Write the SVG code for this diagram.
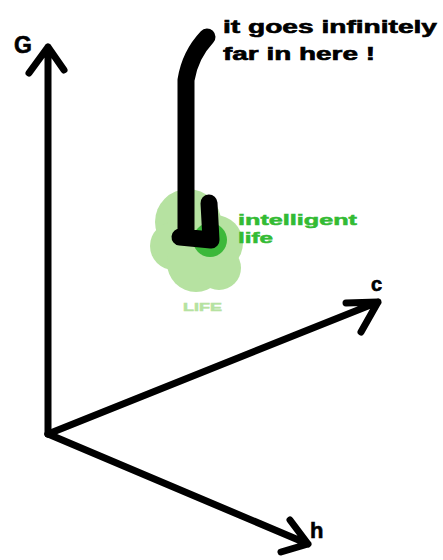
<svg xmlns="http://www.w3.org/2000/svg" width="443" height="560" viewBox="0 0 443 560">
<style>
.ax{stroke:#000;stroke-width:7;fill:none;stroke-linecap:round;stroke-linejoin:round}
.lbl{font-family:"Liberation Sans",Arial,sans-serif;font-weight:bold;fill:#000;stroke:#000;stroke-width:0.6}
.g{font-family:"Liberation Sans",Arial,sans-serif;font-weight:bold;stroke-width:0.5}
</style>
<rect width="443" height="560" fill="#fff"/>
<g id="blob">
<g fill="#b6e2a1">
<circle cx="188" cy="222" r="33"/>
<circle cx="174" cy="246" r="24"/>
<circle cx="215" cy="243" r="28"/>
<circle cx="196" cy="263" r="29"/>
<circle cx="219" cy="268" r="22"/>
</g>
<circle cx="210" cy="240" r="17" fill="#3cb83a"/>
<text class="g" x="238" y="225" font-size="14" fill="#33bb33" stroke="#33bb33" textLength="119" lengthAdjust="spacingAndGlyphs">intelligent</text>
<text class="g" x="238" y="243" font-size="14" fill="#33bb33" stroke="#33bb33" textLength="35" lengthAdjust="spacingAndGlyphs">life</text>
<text class="g" x="183" y="311" font-size="11" fill="#b6e2a1" stroke="#b6e2a1" textLength="39" lengthAdjust="spacingAndGlyphs">LIFE</text>
</g>
<g id="axes">
<path class="ax" d="M48 434 L48 47 M29 73 L48 47 L64 70"/>
<path class="ax" d="M48 434 L378 302 M346 303 L378 302 L361 332"/>
<path class="ax" d="M48 434 L308 544 M290 520 L308 544 L281 552"/>
</g>
<g id="labels">
<text class="lbl" x="14" y="53" font-size="23">G</text>
<text class="lbl" x="371" y="291" font-size="20">c</text>
<text class="lbl" x="310" y="538" font-size="22">h</text>
<text class="lbl" x="223" y="33" font-size="18" textLength="214" lengthAdjust="spacingAndGlyphs">it goes infinitely</text>
<text class="lbl" x="223" y="60" font-size="18" textLength="152" lengthAdjust="spacingAndGlyphs">far in here !</text>
</g>
<g id="marker">
<path d="M207 37 Q190 55 186 80 L186 236 M180 237 L211 240 M211 240 L209 203" fill="none" stroke="#000" stroke-width="17" stroke-linecap="round" stroke-linejoin="round"/>
</g>
</svg>
